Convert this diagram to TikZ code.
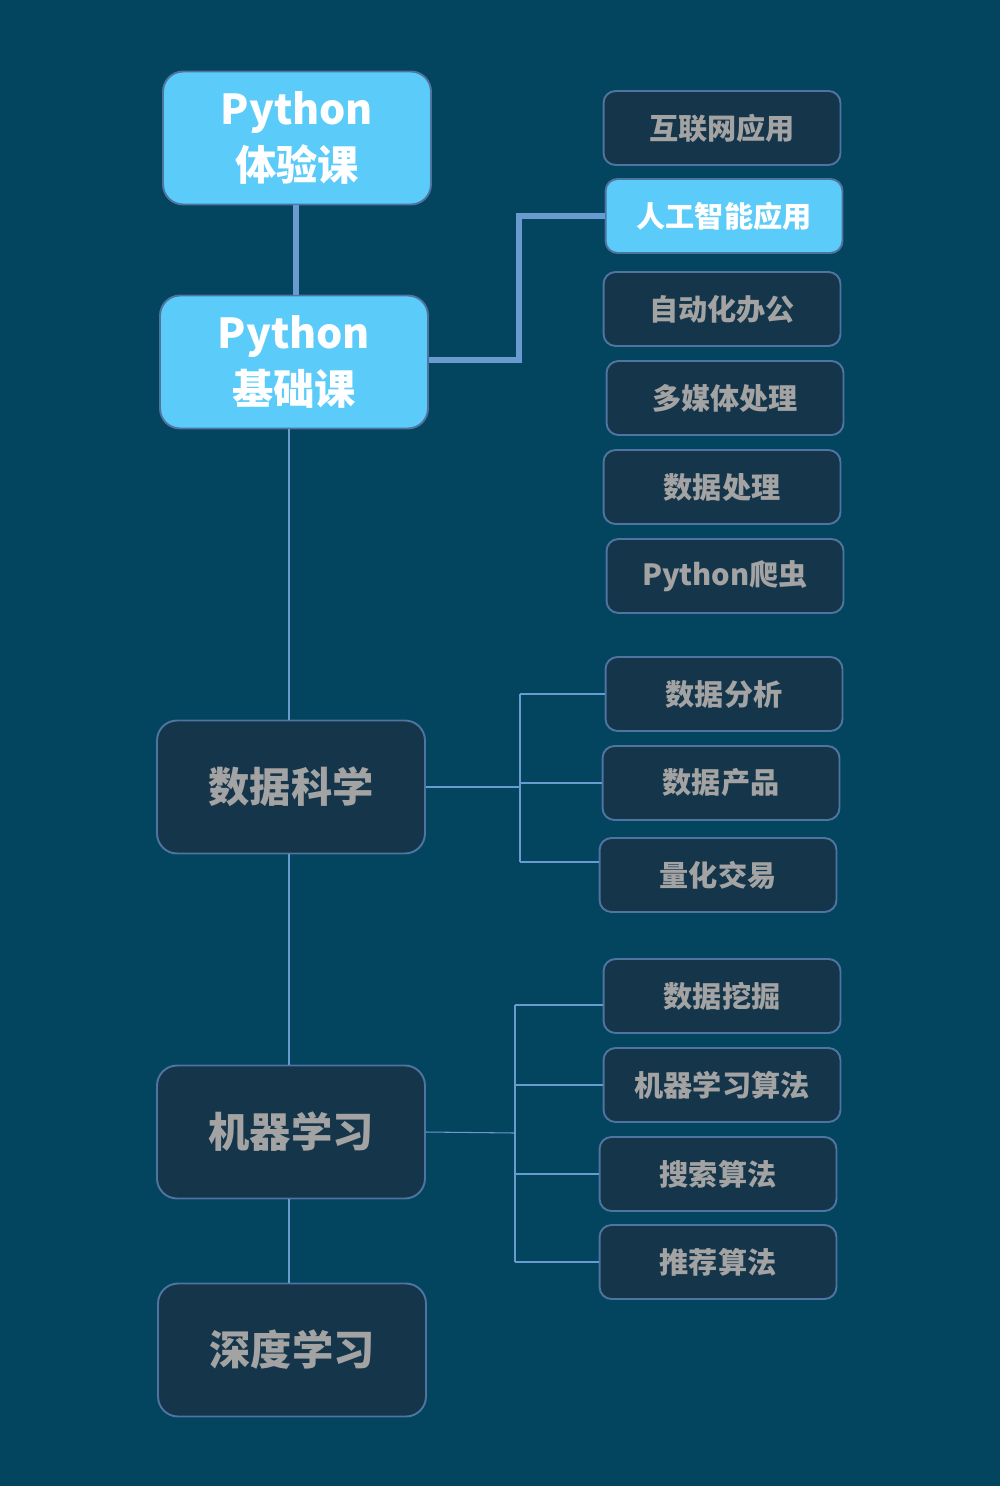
\documentclass[tikz,border=0pt]{standalone}
\usepackage{fontspec}
\setmainfont{Noto Sans CJK SC}
\usepackage{tikz}
\usetikzlibrary{positioning}

\definecolor{bgteal}{HTML}{03445E}
\definecolor{boxdark}{HTML}{14354A}
\definecolor{boxedge}{HTML}{4F74A0}
\definecolor{boxlight}{HTML}{5BCBFA}
\definecolor{linkblue}{HTML}{6A9BD0}
\definecolor{textgray}{HTML}{A3A3A3}

\begin{document}
\begin{tikzpicture}[x=0.02cm,y=-0.02cm,
    bigbox/.style={draw=boxedge, line width=1.1pt, rounded corners=0.4cm,
      minimum width=5.36cm, minimum height=2.66cm, inner sep=0pt, align=center,
      font=\bfseries\fontsize{23.5}{32}\selectfont},
    smallbox/.style={draw=boxedge, line width=1.1pt, rounded corners=0.24cm,
      minimum width=4.74cm, minimum height=1.48cm, inner sep=0pt,
      font=\bfseries\fontsize{16.6}{20}\selectfont},
    dark/.style={fill=boxdark, text=textgray},
    light/.style={fill=boxlight, text=white},
    thinlink/.style={draw=linkblue, line width=0.6pt},
    thicklink/.style={draw=linkblue, line width=3pt}]
        % \draw[help lines,step=100] (0,0) grid (1000,1486);

        \fill[bgteal] (0,0) rectangle (1000,1486);

        % main column
        \node[bigbox,light] (tiyan) at (297,138) {Python\\体验课};
        \node[bigbox,light] (jichu) at (294,362) {Python\\基础课};
        \node[bigbox,dark] (shuju) at (291,787) {数据科学};
        \node[bigbox,dark] (jiqi) at (291,1132) {机器学习};
        \node[bigbox,dark] (shendu) at (292,1350) {深度学习};

        % application boxes
        \node[smallbox,dark] (hulian) at (722,128) {互联网应用};
        \node[smallbox,light] (rengong) at (724,216) {人工智能应用};
        \node[smallbox,dark] (bangong) at (722,309) {自动化办公};
        \node[smallbox,dark] (meiti) at (725,398) {多媒体处理};
        \node[smallbox,dark] (chuli) at (722,487) {数据处理};
        \node[smallbox,dark] (pachong) at (725,576) {Python爬虫};

        % data science boxes
        \node[smallbox,dark] (fenxi) at (724,694) {数据分析};
        \node[smallbox,dark] (chanpin) at (721,783) {数据产品};
        \node[smallbox,dark] (lianghua) at (718,875) {量化交易};

        % machine learning boxes
        \node[smallbox,dark] (wajue) at (722,996) {数据挖掘};
        \node[smallbox,dark] (suanfa) at (722,1085) {机器学习算法};
        \node[smallbox,dark] (sousuo) at (718,1174) {搜索算法};
        \node[smallbox,dark] (tuijian) at (718,1262) {推荐算法};

        % thick links
        \draw[thicklink] (tiyan.south -| 296,0) -- (jichu.north -| 296,0);
        \coordinate (ai-bend) at (519,360);
        \draw[thicklink] (jichu.east |- ai-bend) -- (ai-bend) -- (ai-bend |- rengong.west) -- (rengong.west);

        % main column links
        \draw[thinlink] (jichu.south -| 289,0) -- (shuju.north -| 289,0);
        \draw[thinlink] (shuju.south -| 289,0) -- (jiqi.north -| 289,0);
        \draw[thinlink] (jiqi.south -| 289,0) -- (shendu.north -| 289,0);

        % data science to its boxes
        \coordinate (ds-bus) at (520,787);
        \draw[thinlink] (shuju.east) -- (ds-bus);
        \draw[thinlink] (ds-bus |- fenxi.west) -- (ds-bus |- 0,862);
        \draw[thinlink] (ds-bus |- fenxi.west) -- (fenxi.west);
        \draw[thinlink] (ds-bus |- chanpin.west) -- (chanpin.west);
        \draw[thinlink] (ds-bus |- 0,862) -- (lianghua.west |- 0,862);

        % machine learning to its boxes
        \coordinate (ml-bus) at (515,1133);
        \draw[thinlink] (jiqi.east) -- (ml-bus);
        \draw[thinlink] (ml-bus |- 0,1005) -- (ml-bus |- tuijian.west);
        \draw[thinlink] (ml-bus |- 0,1005) -- (wajue.west |- 0,1005);
        \draw[thinlink] (ml-bus |- suanfa.west) -- (suanfa.west);
        \draw[thinlink] (ml-bus |- sousuo.west) -- (sousuo.west);
        \draw[thinlink] (ml-bus |- tuijian.west) -- (tuijian.west);

      \end{tikzpicture}
\end{document}
